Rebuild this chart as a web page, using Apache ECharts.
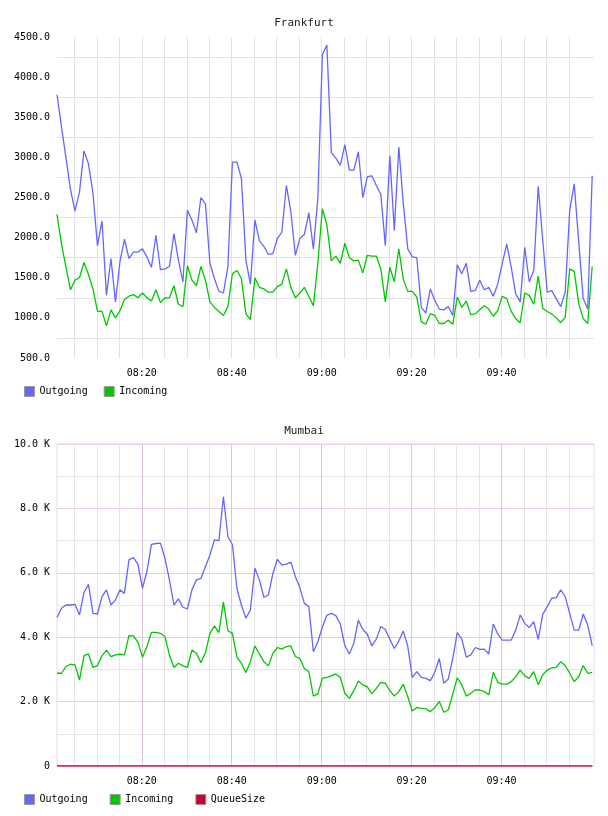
<!DOCTYPE html>
<html>
<head>
<meta charset="utf-8">
<title>Frankfurt / Mumbai</title>
<script src="https://cdn.jsdelivr.net/npm/echarts@6/dist/echarts.min.js"></script>
<style>
  html, body { margin: 0; padding: 0; background: #fff; }
  #chart { width: 608px; height: 816px; }
</style>
</head>
<body>
<div id="chart"></div>
<script>
// one sample per minute, first one a little after 08:01
var firstSample = 1.15;          // minutes after 08:00
var xMin = 1.15, xMax = 120.55;  // visible time window (minutes after 08:00)
var timeLabels = ['08:20', '08:40', '09:00', '09:20', '09:40'];
var gridTicks = [5, 10, 15, 20, 25, 30, 35, 40, 45, 50, 55, 60,
                 65, 70, 75, 80, 85, 90, 95, 100, 105, 110, 115];

var frankfurtOut = [
  3780, 3380, 2990, 2600, 2330, 2570, 3080, 2920, 2550, 1900,
  2210, 1280, 1740, 1200, 1700, 1980, 1740, 1820, 1820, 1860,
  1760, 1630, 2030, 1600, 1610, 1640, 2050, 1720, 1450, 2340,
  2220, 2060, 2500, 2420, 1680, 1490, 1330, 1310, 1640, 2940,
  2940, 2740, 1720, 1420, 2220, 1960, 1890, 1790, 1800, 1990,
  2070, 2650, 2320, 1780, 1990, 2040, 2310, 1860, 2490, 4280,
  4400, 3060, 2990, 2900, 3160, 2840, 2840, 3070, 2500, 2760,
  2770, 2650, 2540, 1900, 3020, 2090, 3130, 2420, 1860, 1760,
  1750, 1130, 1060, 1360, 1220, 1110, 1100, 1140, 1030, 1660,
  1550, 1680, 1330, 1340, 1470, 1350, 1380, 1270, 1420, 1680,
  1920, 1630, 1300, 1200, 1880, 1450, 1590, 2640, 1970, 1320,
  1340, 1240, 1140, 1320, 2340, 2670, 1950, 1240, 1110, 2770
];
var frankfurtIn = [
  2290, 1920, 1630, 1350, 1470, 1500, 1690, 1540, 1360, 1080,
  1080,  900, 1100, 1000, 1090, 1230, 1270, 1290, 1250, 1310,
  1250, 1210, 1350, 1190, 1250, 1250, 1400, 1170, 1140, 1650,
  1470, 1400, 1640, 1470, 1200, 1130, 1080, 1030, 1140, 1550,
  1590, 1490, 1050,  980, 1500, 1380, 1360, 1320, 1320, 1390,
  1420, 1610, 1380, 1250, 1310, 1380, 1270, 1150, 1680, 2360,
  2160, 1710, 1770, 1680, 1930, 1750, 1710, 1720, 1560, 1780,
  1770, 1770, 1610, 1200, 1630, 1450, 1860, 1480, 1330, 1330,
  1260,  950,  920, 1050, 1030,  930,  930,  970,  920, 1260,
  1130, 1210, 1040, 1050, 1100, 1150, 1110, 1020, 1090, 1270,
  1240, 1080,  990,  940, 1310, 1280, 1170, 1520, 1120, 1080,
  1050, 1000,  940, 1010, 1610, 1580, 1180,  990,  930, 1640
];
var mumbaiOut = [
  4610, 4900, 5000, 5000, 5020, 4690, 5390, 5640, 4740, 4720,
  5260, 5470, 5000, 5160, 5470, 5360, 6400, 6470, 6260, 5520,
  6040, 6880, 6910, 6920, 6450, 5780, 5000, 5190, 4930, 4880,
  5470, 5780, 5830, 6190, 6550, 7020, 7000, 8360, 7120, 6880,
  5520, 5000, 4590, 4850, 6140, 5780, 5240, 5310, 5980, 6420,
  6240, 6270, 6330, 5880, 5540, 5050, 4950, 3550, 3860, 4310,
  4680, 4740, 4670, 4410, 3740, 3480, 3810, 4530, 4240, 4090,
  3730, 3940, 4330, 4240, 3940, 3650, 3880, 4190, 3710, 2750,
  2930, 2750, 2720, 2650, 2910, 3340, 2570, 2700, 3340, 4140,
  3940, 3380, 3450, 3680, 3620, 3630, 3480, 4410, 4100, 3910,
  3910, 3910, 4220, 4690, 4430, 4300, 4480, 3930, 4710, 4950,
  5210, 5230, 5470, 5260, 4740, 4220, 4220, 4720, 4380, 3740
];
var mumbaiIn = [
  2880, 2880, 3090, 3160, 3140, 2670, 3430, 3480, 3060, 3120,
  3420, 3600, 3400, 3450, 3470, 3450, 4050, 4040, 3840, 3380,
  3710, 4150, 4150, 4120, 4020, 3450, 3060, 3190, 3110, 3060,
  3600, 3500, 3210, 3520, 4120, 4350, 4140, 5100, 4200, 4120,
  3380, 3190, 2900, 3240, 3730, 3480, 3240, 3110, 3500, 3680,
  3630, 3710, 3730, 3400, 3340, 3030, 2930, 2170, 2240, 2720,
  2750, 2800, 2860, 2750, 2260, 2100, 2340, 2640, 2520, 2460,
  2240, 2410, 2600, 2570, 2340, 2170, 2310, 2540, 2150, 1710,
  1820, 1790, 1780, 1690, 1810, 2000, 1670, 1740, 2240, 2740,
  2520, 2170, 2260, 2360, 2360, 2310, 2210, 2910, 2600, 2540,
  2540, 2620, 2770, 2980, 2800, 2720, 2930, 2520, 2830, 2980,
  3050, 3060, 3240, 3120, 2880, 2620, 2770, 3120, 2880, 2910
];
var mumbaiQueue = [
  0, 0, 0, 0, 0, 0, 0, 0, 0, 0, 0, 0, 0, 0, 0, 0, 0, 0, 0, 0,
  0, 0, 0, 0, 0, 0, 0, 0, 0, 0, 0, 0, 0, 0, 0, 0, 0, 0, 0, 0,
  0, 0, 0, 0, 0, 0, 0, 0, 0, 0, 0, 0, 0, 0, 0, 0, 0, 0, 0, 0,
  0, 0, 0, 0, 0, 0, 0, 0, 0, 0, 0, 0, 0, 0, 0, 0, 0, 0, 0, 0,
  0, 0, 0, 0, 0, 0, 0, 0, 0, 0, 0, 0, 0, 0, 0, 0, 0, 0, 0, 0,
  0, 0, 0, 0, 0, 0, 0, 0, 0, 0, 0, 0, 0, 0, 0, 0, 0, 0, 0, 0
];

var MONO = '"DejaVu Sans Mono", monospace';
var OUT_COLOR = '#6666ff', IN_COLOR = '#00c800', QUEUE_COLOR = '#cc0033';

function toMinutes(label) {
  var p = label.split(':');
  return (Number(p[0]) - 8) * 60 + Number(p[1]);
}
function pad(n) { return (n < 10 ? '0' : '') + n; }
function toLabel(m) {
  var t = Math.round(m);
  return pad(8 + Math.floor(t / 60)) + ':' + pad(t % 60);
}
function pairs(values) {
  return values.map(function (v, i) { return [firstSample + i, v]; });
}

var labelMinutes = timeLabels.map(toMinutes);

// thin grid every 5 minutes
function minorX(gridIndex, color) {
  return {
    type: 'value', gridIndex: gridIndex, position: 'bottom', min: xMin, max: xMax,
    axisLine: {show: false},
    axisTick: {show: false, customValues: gridTicks},
    axisLabel: {show: false},
    splitLine: {show: true, lineStyle: {color: color, width: 1}}
  };
}
// labelled axis every 20 minutes
function majorX(gridIndex, color) {
  return {
    type: 'value', gridIndex: gridIndex, position: 'bottom', min: xMin, max: xMax,
    axisLine: {show: false},
    axisTick: {show: false, customValues: labelMinutes},
    axisLabel: {
      customValues: labelMinutes, formatter: toLabel, margin: 10,
      fontFamily: MONO, fontSize: 10, color: '#000'
    },
    splitLine: {show: !!color, lineStyle: {color: color || '#fff', width: 1}}
  };
}

function line(name, data, color, xi, yi) {
  return {
    name: name, type: 'line', xAxisIndex: xi, yAxisIndex: yi,
    data: pairs(data), showSymbol: false, symbol: 'none',
    lineStyle: {color: color, width: 1.3}, itemStyle: {color: color},
    emphasis: {disabled: true}
  };
}

var legendText = {fontFamily: MONO, fontSize: 10, color: '#000'};

var chart = echarts.init(document.getElementById('chart'));
chart.setOption({
  animation: false,
  backgroundColor: '#fff',
  title: [
    {text: 'Frankfurt', left: 'center', top: 13,
     textStyle: {fontFamily: MONO, fontSize: 11, fontWeight: 'normal', color: '#222'}},
    {text: 'Mumbai', left: 'center', top: 421,
     textStyle: {fontFamily: MONO, fontSize: 11, fontWeight: 'normal', color: '#222'}}
  ],
  legend: [
    {data: ['Outgoing', 'Incoming'], left: 24, top: 386, padding: 0,
     icon: 'rect', itemWidth: 10, itemHeight: 10, itemGap: 16,
     itemStyle: {borderColor: '#999', borderWidth: 1}, textStyle: legendText},
    {data: ['Outgoing', 'Incoming', 'QueueSize'], left: 24, top: 794, padding: 0,
     icon: 'rect', itemWidth: 10, itemHeight: 10, itemGap: 22,
     itemStyle: {borderColor: '#999', borderWidth: 1}, textStyle: legendText}
  ],
  grid: [
    {left: 57, top: 37, width: 537, height: 321, show: false},
    {left: 57, top: 444, width: 537, height: 322, show: true,
     borderColor: '#ead8ea', borderWidth: 1, backgroundColor: 'transparent'}
  ],
  xAxis: [
    minorX(0, '#e2e2e2'),
    majorX(0, null),
    minorX(1, '#e6e2e6'),
    majorX(1, '#dcc4dc')
  ],
  yAxis: [
    {
      type: 'value', gridIndex: 0, min: 500, max: 4500, interval: 500,
      axisLine: {show: false}, axisTick: {show: false},
      axisLabel: {formatter: function (v) { return v.toFixed(1); }, margin: 7,
                  fontFamily: MONO, fontSize: 10, color: '#000'},
      splitLine: {show: false},
      minorTick: {show: false, splitNumber: 2},
      minorSplitLine: {show: true, lineStyle: {color: '#e2e2e2', width: 1}}
    },
    {
      type: 'value', gridIndex: 1, min: 0, max: 10000, interval: 2000,
      axisLine: {show: false}, axisTick: {show: false},
      axisLabel: {formatter: function (v) { return v === 0 ? '0' : (v / 1000).toFixed(1) + ' K'; },
                  margin: 7, fontFamily: MONO, fontSize: 10, color: '#000'},
      splitLine: {show: true, lineStyle: {color: '#e6cfe6', width: 1}},
      minorTick: {show: false, splitNumber: 2},
      minorSplitLine: {show: true, lineStyle: {color: '#e6e6e6', width: 1}}
    }
  ],
  series: [
    line('Outgoing', frankfurtOut, OUT_COLOR, 1, 0),
    line('Incoming', frankfurtIn, IN_COLOR, 1, 0),
    line('Outgoing', mumbaiOut, OUT_COLOR, 3, 1),
    line('Incoming', mumbaiIn, IN_COLOR, 3, 1),
    line('QueueSize', mumbaiQueue, QUEUE_COLOR, 3, 1)
  ]
});
</script>
</body>
</html>
